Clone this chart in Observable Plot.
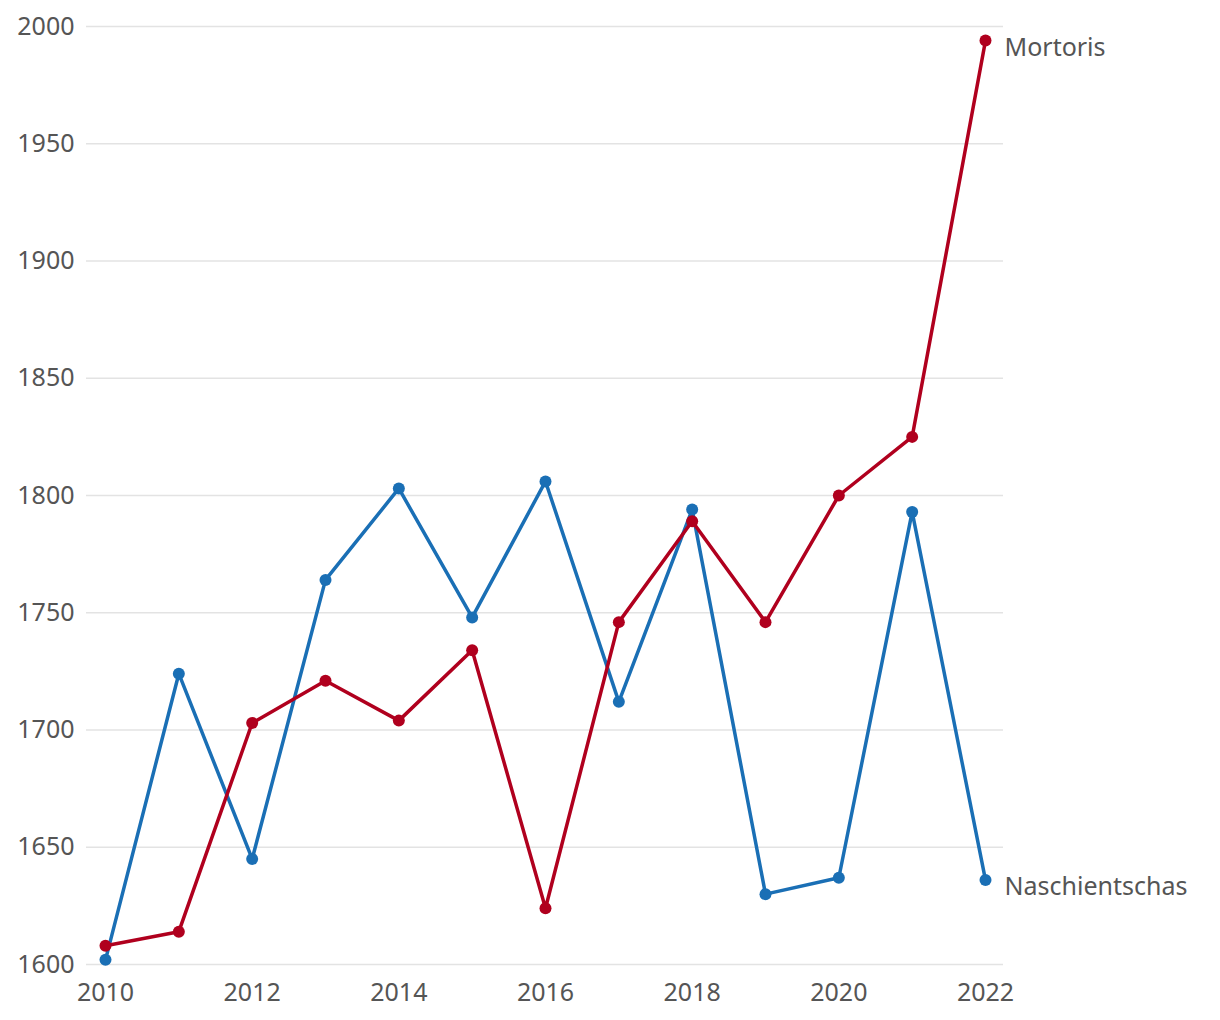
<!DOCTYPE html>
<html>
<head>
<meta charset="utf-8">
<script src="https://cdn.jsdelivr.net/npm/d3@7"></script>
<script src="https://cdn.jsdelivr.net/npm/@observablehq/plot@0.6"></script>
<style>
  html, body { margin: 0; padding: 0; background: #fff; }
  #chart svg { display: block; }
</style>
</head>
<body>
<div id="chart"></div>
<script>
const years = [2010, 2011, 2012, 2013, 2014, 2015, 2016, 2017, 2018, 2019, 2020, 2021, 2022];
const naschientschas = [1602, 1724, 1645, 1764, 1803, 1748, 1806, 1712, 1794, 1630, 1637, 1793, 1636];
const mortoris = [1608, 1614, 1703, 1721, 1704, 1734, 1624, 1746, 1789, 1746, 1800, 1825, 1994];
const seriesNames = ["Naschientschas", "Mortoris"];
const seriesColors = ["#1a6fb5", "#b0001e"];
const xTicks = [2010, 2012, 2014, 2016, 2018, 2020, 2022];
const yTicks = [1600, 1650, 1700, 1750, 1800, 1850, 1900, 1950, 2000];

const seriesValues = [naschientschas, mortoris];
const data = seriesNames.flatMap((name, i) =>
  years.map((year, j) => ({ series: name, year, value: seriesValues[i][j] }))
);
const lastPoints = seriesNames.map(name => data.filter(d => d.series === name).at(-1));

const marks = [
  Plot.gridY(yTicks, { stroke: "#e3e3e3", strokeOpacity: 1, strokeWidth: 1.5 }),
  Plot.axisY(yTicks, { tickSize: 0, tickPadding: 12, fill: "#555", fontSize: 25, label: null, tickFormat: d => String(d) }),
  Plot.axisX(xTicks, { tickSize: 0, tickPadding: 19, fill: "#555", fontSize: 25, label: null, tickFormat: d => String(d) })
];
seriesNames.forEach((name, i) => {
  const sub = data.filter(d => d.series === name);
  marks.push(Plot.line(sub, { x: "year", y: "value", stroke: seriesColors[i], strokeWidth: 3.5 }));
  marks.push(Plot.dot(sub, { x: "year", y: "value", fill: seriesColors[i], r: 6 }));
});
marks.push(Plot.text(lastPoints, {
  x: "year", y: "value", text: "series", textAnchor: "start", dx: 19, dy: 7,
  fill: "#555", fontSize: 25
}));

const chart = Plot.plot({
  width: 1220,
  height: 1020,
  marginLeft: 86,
  marginRight: 217,
  marginTop: 26,
  marginBottom: 56,
  insetLeft: 19,
  insetRight: 18,
  style: { fontFamily: "'Noto Sans', sans-serif", background: "#fff", overflow: "visible" },
  x: { domain: [2010, 2022] },
  y: { domain: [1600, 2000] },
  marks
});
document.getElementById("chart").appendChild(chart);
</script>
</body>
</html>
